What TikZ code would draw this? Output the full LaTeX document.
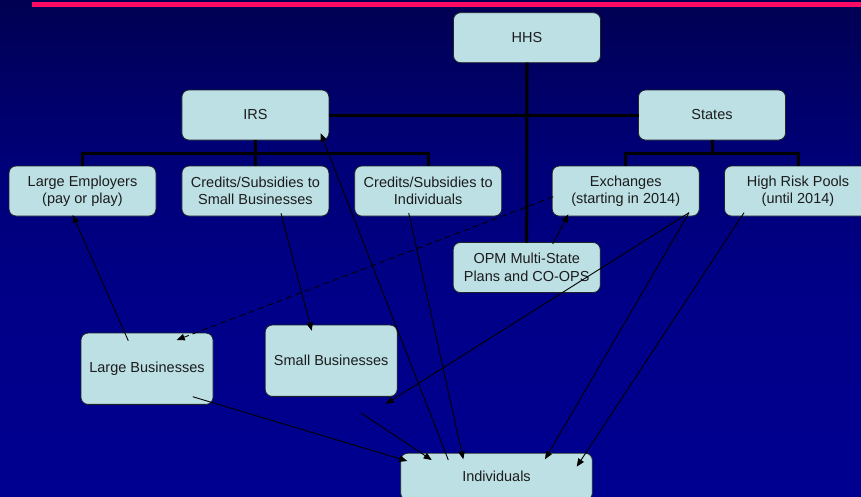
\documentclass[tikz,border=0pt]{standalone}
\usepackage{fontspec}
\setmainfont{Liberation Sans}
\usetikzlibrary{arrows.meta,calc}
\definecolor{bgA}{RGB}{0,0,82}
\definecolor{bgB}{RGB}{0,0,118}
\definecolor{bgC}{RGB}{0,0,136}
\definecolor{bgD}{RGB}{0,0,144}
\definecolor{redline}{RGB}{255,10,100}
\definecolor{boxfill}{RGB}{188,224,228}
\definecolor{boxline}{RGB}{30,36,40}
\definecolor{textc}{RGB}{28,28,28}
\begin{document}
\begin{tikzpicture}[x=1pt,y=-1pt,
  box/.style={draw=boxline, fill=boxfill, rounded corners=7pt, line width=0.8pt,
    inner sep=0pt, outer sep=0pt, align=center, text=textc,
    font=\fontsize{14.5}{17.4}\selectfont, minimum width=147pt, minimum height=50pt},
  bigbox/.style={box, minimum width=132pt, minimum height=71.3pt},
  bracket/.style={draw=black, line width=3pt},
  arr/.style={draw=black, line width=0.9pt, -{Triangle[length=8pt,width=6.5pt]}},
  dasharr/.style={arr, dash pattern=on 6pt off 4pt}]
\useasboundingbox (0,0) rectangle (861,496);
\clip (0,0) rectangle (861,496);
% background
\fill[top color=bgA, bottom color=bgB] (0,0) rectangle (861,151);
\fill[top color=bgB, bottom color=bgC] (0,150) rectangle (861,301);
\fill[top color=bgC, bottom color=bgD] (0,300) rectangle (861,496);
\fill[redline] (32,2) rectangle (861,7);
% boxes
\node[box] (hhs) at (527,37.7) {HHS};
\node[box] (irs) at (255.4,115) {IRS};
\node[box] (states) at (712,115) {States};
\node[box] (le) at (82.5,191) {Large Employers\\(pay or play)};
\node[box] (csb) at (255.4,191) {Credits/Subsidies to\\Small Businesses};
\node[box] (cid) at (428.2,191) {Credits/Subsidies to\\Individuals};
\node[box] (ex) at (625.7,191) {Exchanges\\(starting in 2014)};
\node[box] (hrp) at (798,191) {High Risk Pools\\(until 2014)};
\node[box] (opm) at (526.7,267.5) {OPM Multi-State\\Plans and CO-OPS};
\node[bigbox] (lb) at (147,368.7) {Large Businesses};
\node[bigbox] (sb) at (331.2,360.7) {Small Businesses};
\node[box, minimum width=191.6pt, minimum height=47pt] (ind) at (496.5,476.7) {Individuals};
% org-chart lines
\draw[bracket] (hhs.south) -- (opm.north);
\draw[bracket] (irs.east) -- (states.west);
\draw[bracket] (irs.south) -- (csb.north);
\draw[bracket] (le.north) |- ($(irs.south)+(0,13)$) -| (cid.north);
\draw[bracket] (states.south) -- ++(0,13);
\draw[bracket] (ex.north) |- ($(states.south)+(0,13)$) -| (hrp.north);
% free coordinates
\coordinate (f7) at (385.7,404);
\coordinate (f11) at (360.7,412.7);
% arrows
\draw[arr] ($(lb.center)+(-18.7,-28)$) -- ($(le.center)+(-9.8,24)$);
\draw[arr] ($(csb.center)+(25.6,22.3)$) -- ($(sb.center)+(-19.5,-30)$);
\draw[arr] ($(cid.center)+(-19.5,22)$) -- ($(ind.center)+(-33.2,-17.4)$);
\draw[arr] ($(ind.center)+(-48.2,-16.7)$) -- ($(irs.center)+(65.3,18.3)$);
\draw[dasharr] ($(ex.center)+(-72.4,5.7)$) -- ($(lb.center)+(29.7,-28.7)$);
\draw[arr] ($(opm.center)+(26,-23.5)$) -- ($(ex.center)+(-57.4,23.3)$);
\draw[arr] ($(ex.center)+(63.3,21.7)$) -- (f7);
\draw[arr] ($(ex.center)+(63.3,21.7)$) -- ($(ind.center)+(48.5,-17.4)$);
\draw[arr] ($(hrp.center)+(-54,21.7)$) -- ($(ind.center)+(80.2,-10)$);
\draw[arr] ($(lb.center)+(45.7,28)$) -- ($(ind.center)+(-89.2,-15.7)$);
\draw[arr] (f11) -- ($(ind.center)+(-64.8,-16.7)$);
\end{tikzpicture}
\end{document}
